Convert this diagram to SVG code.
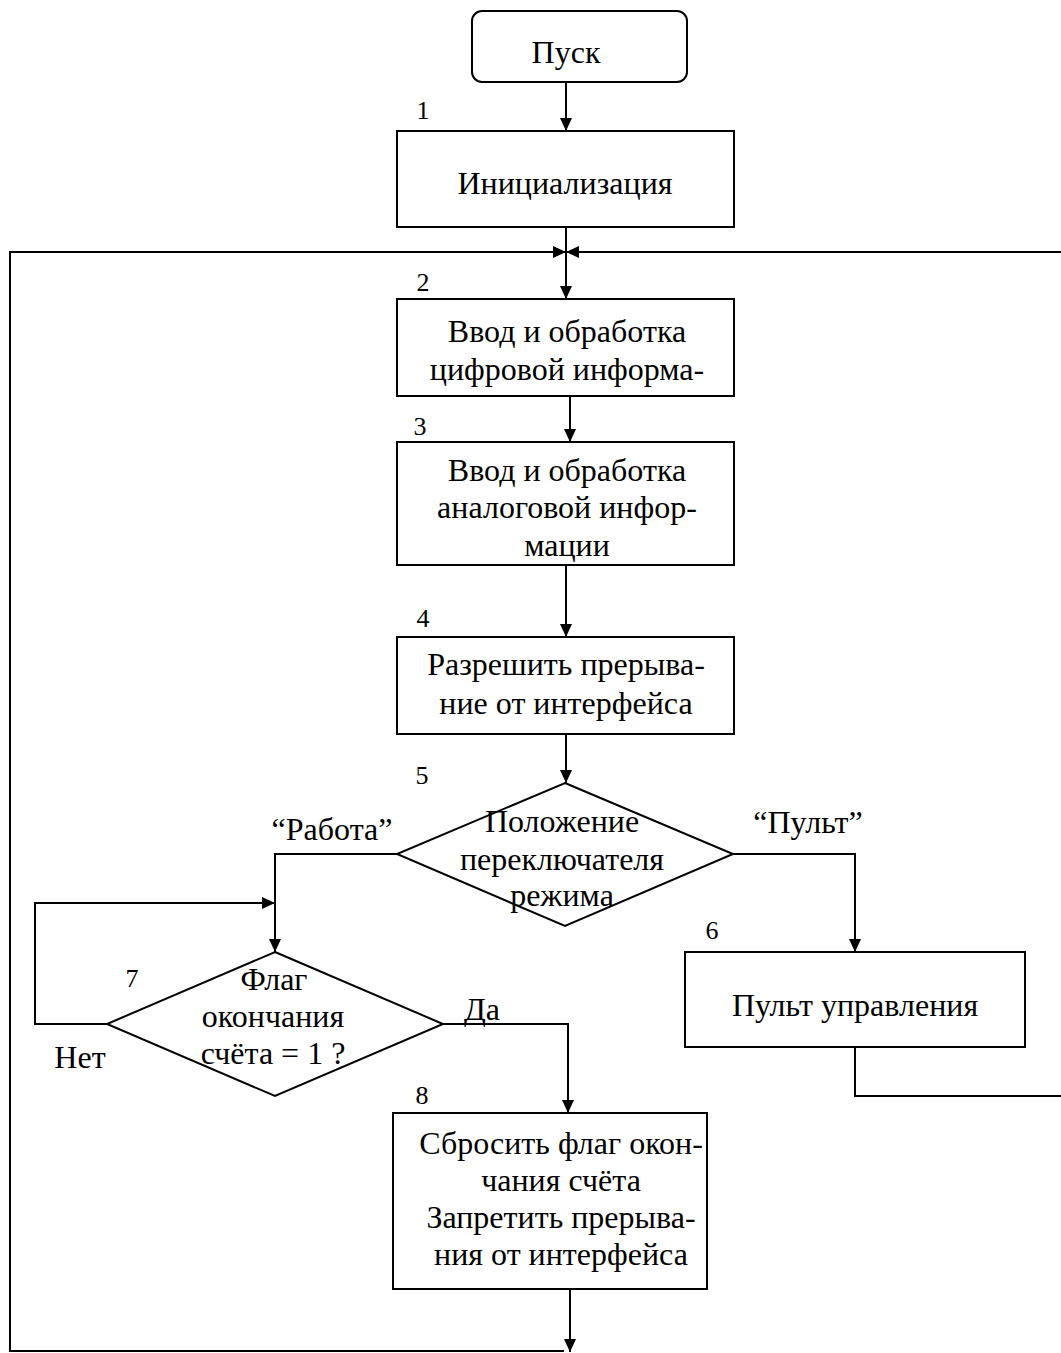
<svg xmlns="http://www.w3.org/2000/svg" width="1061" height="1353" viewBox="0 0 1061 1353">
  <style>
    .box { fill: #fff; stroke: #000; stroke-width: 2; }
    .line { fill: none; stroke: #000; stroke-width: 2; }
    .t { font-family: "Liberation Serif", "Times New Roman", serif; font-size: 32px; fill: #000; text-anchor: middle; }
    .n { font-family: "Liberation Serif", "Times New Roman", serif; font-size: 26px; fill: #000; text-anchor: middle; }
  </style>
  <defs>
    <marker id="arrow" viewBox="0 0 13 12" refX="13" refY="6" markerWidth="13" markerHeight="12" markerUnits="userSpaceOnUse" orient="auto">
      <path d="M0,0 L13,6 L0,12 Z" fill="#000"/>
    </marker>
  </defs>
  <rect width="1061" height="1353" fill="#fff"/>

  <!-- connectors -->
  <g id="connectors">
    <line class="line" x1="566" y1="82" x2="566" y2="131" marker-end="url(#arrow)"/>
    <line class="line" x1="566" y1="227" x2="566" y2="299" marker-end="url(#arrow)"/>
    <!-- return path from block 8 -->
    <line class="line" x1="570" y1="1289" x2="570" y2="1352" marker-end="url(#arrow)"/>
    <polyline class="line" points="564,1351 10,1351 10,252 566,252" marker-end="url(#arrow)"/>
    <!-- return path from the control panel -->
    <polyline class="line" points="855,1047 855,1096 1062,1096 1062,252 566,252" marker-end="url(#arrow)"/>
    <line class="line" x1="570" y1="396" x2="570" y2="442" marker-end="url(#arrow)"/>
    <line class="line" x1="566" y1="565" x2="566" y2="637" marker-end="url(#arrow)"/>
    <line class="line" x1="566" y1="734" x2="566" y2="783" marker-end="url(#arrow)"/>
    <!-- mode switch branches -->
    <polyline class="line" points="397,854 275,854 275,952" marker-end="url(#arrow)"/>
    <polyline class="line" points="733,854 855,854 855,952" marker-end="url(#arrow)"/>
    <!-- wait loop on the counting flag -->
    <polyline class="line" points="107,1024 35,1024 35,903 275,903" marker-end="url(#arrow)"/>
    <polyline class="line" points="443,1024 568,1024 568,1113" marker-end="url(#arrow)"/>
  </g>

  <g id="node-start">
    <rect class="box" x="472" y="11" width="215" height="71" rx="10"/>
    <text class="t" x="566" y="63">Пуск</text>
  </g>

  <g id="node-1">
    <text class="n" x="423" y="119">1</text>
    <rect class="box" x="397" y="131" width="337" height="96"/>
    <text class="t" x="565" y="194">Инициализация</text>
  </g>

  <g id="node-2">
    <text class="n" x="423" y="291">2</text>
    <rect class="box" x="397" y="299" width="337" height="97"/>
    <text class="t" x="567" y="342">Ввод и обработка</text>
    <text class="t" x="567" y="380">цифровой информа-</text>
  </g>

  <g id="node-3">
    <text class="n" x="420" y="435">3</text>
    <rect class="box" x="397" y="442" width="337" height="123"/>
    <text class="t" x="567" y="481">Ввод и обработка</text>
    <text class="t" x="567" y="518">аналоговой инфор-</text>
    <text class="t" x="567" y="556">мации</text>
  </g>

  <g id="node-4">
    <text class="n" x="423" y="627">4</text>
    <rect class="box" x="397" y="637" width="337" height="97"/>
    <text class="t" x="566" y="675">Разрешить прерыва-</text>
    <text class="t" x="566" y="714">ние от интерфейса</text>
  </g>

  <g id="node-5">
    <text class="n" x="422" y="784">5</text>
    <polygon class="box" points="565,783 733,854 565,926 397,854"/>
    <text class="t" x="562" y="832">Положение</text>
    <text class="t" x="562" y="870">переключателя</text>
    <text class="t" x="562" y="906">режима</text>
    <text class="t" x="332" y="840">“Работа”</text>
    <text class="t" x="808" y="833">“Пульт”</text>
  </g>

  <g id="node-6">
    <text class="n" x="712" y="939">6</text>
    <rect class="box" x="685" y="952" width="340" height="95"/>
    <text class="t" x="855" y="1016">Пульт управления</text>
  </g>

  <g id="node-7">
    <text class="n" x="132" y="987">7</text>
    <polygon class="box" points="275,952 443,1024 275,1096 107,1024"/>
    <text class="t" x="274" y="990">Флаг</text>
    <text class="t" x="273" y="1027">окончания</text>
    <text class="t" x="273" y="1064">счёта = 1 ?</text>
    <text class="t" x="80" y="1068">Нет</text>
    <text class="t" x="482" y="1020">Да</text>
  </g>

  <g id="node-8">
    <text class="n" x="422" y="1104">8</text>
    <rect class="box" x="393" y="1113" width="314" height="176"/>
    <text class="t" x="561" y="1154">Сбросить флаг окон-</text>
    <text class="t" x="561" y="1191">чания счёта</text>
    <text class="t" x="561" y="1228">Запретить прерыва-</text>
    <text class="t" x="561" y="1265">ния от интерфейса</text>
  </g>
</svg>
